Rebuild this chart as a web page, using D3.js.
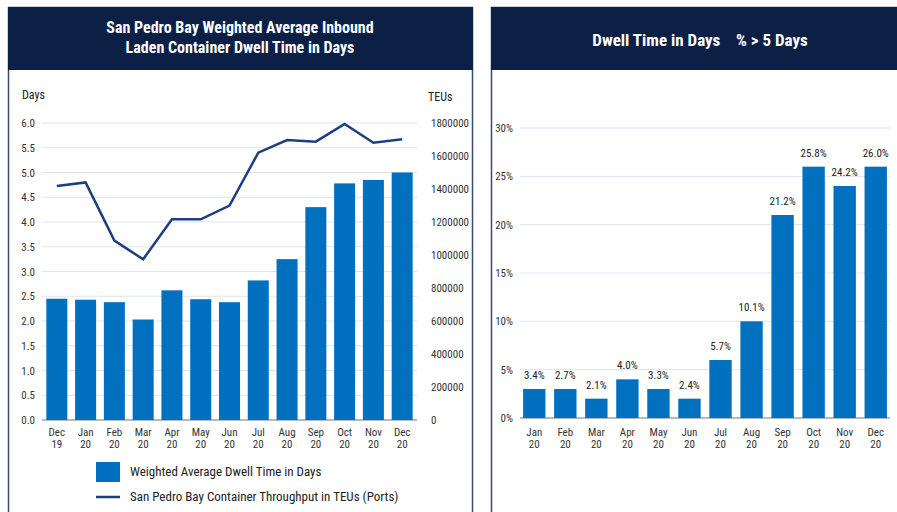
<!DOCTYPE html>
<html>
<head>
<meta charset="utf-8">
<script src="https://cdn.jsdelivr.net/npm/d3@7"></script>
<style>
body { margin:0; background:#fff; }
text { font-family: "Roboto Condensed", Roboto, sans-serif; }
</style>
</head>
<body>
<div id="chart"></div>
<script>
// left chart data
var months_left = [["Dec","19"],["Jan","20"],["Feb","20"],["Mar","20"],["Apr","20"],["May","20"],["Jun","20"],
                   ["Jul","20"],["Aug","20"],["Sep","20"],["Oct","20"],["Nov","20"],["Dec","20"]];
var dwell_days = [2.45, 2.43, 2.38, 2.03, 2.62, 2.44, 2.38, 2.82, 3.25, 4.30, 4.78, 4.85, 5.00];
var teus = [1418000, 1440000, 1087000, 974000, 1216000, 1216000, 1299000, 1620000, 1697000, 1687000, 1794000, 1680000, 1701000];
var days_ticks = [0, 0.5, 1, 1.5, 2, 2.5, 3, 3.5, 4, 4.5, 5, 5.5, 6];
var teu_ticks = [0, 200000, 400000, 600000, 800000, 1000000, 1200000, 1400000, 1600000, 1800000];

// right chart data
var months_right = [["Jan","20"],["Feb","20"],["Mar","20"],["Apr","20"],["May","20"],["Jun","20"],
                    ["Jul","20"],["Aug","20"],["Sep","20"],["Oct","20"],["Nov","20"],["Dec","20"]];
var pct_bars = [3, 3, 2, 4, 3, 2, 6, 10, 21, 26, 24, 26];
var pct_labels = ["3.4%","2.7%","2.1%","4.0%","3.3%","2.4%","5.7%","10.1%","21.2%","25.8%","24.2%","26.0%"];
var pct_ticks = [0, 5, 10, 15, 20, 25, 30];

var navy = "#0c1f44";
var barBlue = "#0070bf";
var lineBlue = "#1d3f7f";
var gridCol = "#dbe5f0";
var txtCol = "#333";

var svg = d3.select("#chart").append("svg")
    .attr("width", 897)
    .attr("height", 512);

//panels
svg.append("rect").attr("x", 8.5).attr("y", 7.5).attr("width", 464).attr("height", 520)
    .attr("fill", "white").attr("stroke", "#3a4a6a").attr("stroke-width", 1.5);
svg.append("rect").attr("x", 8).attr("y", 7).attr("width", 465).attr("height", 63).attr("fill", navy);
svg.append("rect").attr("x", 491.5).attr("y", 7.5).attr("width", 420).attr("height", 520)
    .attr("fill", "white").attr("stroke", "#3a4a6a").attr("stroke-width", 1.5);
svg.append("rect").attr("x", 491).attr("y", 7).attr("width", 420).attr("height", 63).attr("fill", navy);

svg.append("text").attr("x", 240).attr("y", 33).attr("text-anchor", "middle")
    .attr("fill", "white").attr("font-size", 16).attr("font-weight", "bold")
    .text("San Pedro Bay Weighted Average Inbound");
svg.append("text").attr("x", 240).attr("y", 53).attr("text-anchor", "middle")
    .attr("fill", "white").attr("font-size", 16).attr("font-weight", "bold")
    .text("Laden Container Dwell Time in Days");
svg.append("text").attr("x", 700).attr("y", 46).attr("text-anchor", "middle")
    .attr("fill", "white").attr("font-size", 17).attr("font-weight", "bold")
    .attr("xml:space", "preserve")
    .text("Dwell Time in Days    % > 5 Days");

// ---- left chart ----
var x1 = d3.scaleBand().domain(d3.range(months_left.length)).range([42, 417]).paddingInner(0.27).paddingOuter(0.15);
var yDays = d3.scaleLinear().domain([0, 6]).range([420, 123]);
var yTeu = d3.scaleLinear().domain([0, 1800000]).range([420, 123]);

svg.append("g").selectAll("line").data(days_ticks).enter().append("line")
    .attr("x1", 42).attr("x2", 417)
    .attr("y1", function(d){ return yDays(d); }).attr("y2", function(d){ return yDays(d); })
    .attr("stroke", function(d){ return d === 0 ? "#9aa3ad" : gridCol; })
    .attr("stroke-width", function(d){ return d === 0 ? 1.5 : 1; });

var axL = svg.append("g").attr("transform", "translate(38,0)")
    .call(d3.axisLeft(yDays).tickValues(days_ticks).tickFormat(d3.format(".1f")).tickSize(0));
axL.select(".domain").remove();
axL.selectAll("text").attr("font-size", 11).attr("fill", txtCol)
    .attr("font-family", "'Roboto Condensed', Roboto, sans-serif");

var axR = svg.append("g").attr("transform", "translate(428,0)")
    .call(d3.axisRight(yTeu).tickValues(teu_ticks).tickFormat(d3.format("d")).tickSize(0));
axR.select(".domain").remove();
axR.selectAll("text").attr("font-size", 11).attr("fill", txtCol)
    .attr("font-family", "'Roboto Condensed', Roboto, sans-serif");

svg.append("text").attr("x", 22).attr("y", 99).attr("font-size", 12).attr("fill", "#222").text("Days");
svg.append("text").attr("x", 428).attr("y", 101).attr("font-size", 12).attr("fill", "#222").text("TEUs");

svg.append("g").selectAll("rect").data(dwell_days).enter().append("rect")
    .attr("x", function(d, i){ return x1(i); })
    .attr("y", function(d){ return yDays(d); })
    .attr("width", x1.bandwidth())
    .attr("height", function(d){ return yDays(0) - yDays(d); })
    .attr("fill", barBlue);

var line = d3.line()
    .x(function(d, i){ return x1(i) + x1.bandwidth() / 2; })
    .y(function(d){ return yTeu(d); });
svg.append("path").datum(teus).attr("d", line)
    .attr("fill", "none").attr("stroke", lineBlue).attr("stroke-width", 2.5);

var xl = svg.append("g").selectAll("text").data(months_left).enter().append("text")
    .attr("x", function(d, i){ return x1(i) + x1.bandwidth() / 2; })
    .attr("y", 436).attr("text-anchor", "middle").attr("font-size", 11).attr("fill", txtCol);
xl.append("tspan").text(function(d){ return d[0]; });
xl.append("tspan").attr("x", function(d, i){ return x1(i) + x1.bandwidth() / 2; }).attr("dy", 12)
    .text(function(d){ return d[1]; });

// legend
svg.append("rect").attr("x", 96).attr("y", 462).attr("width", 24).attr("height", 20).attr("fill", barBlue);
svg.append("text").attr("x", 130).attr("y", 476).attr("font-size", 13).attr("fill", "#222")
    .text("Weighted Average Dwell Time in Days");
svg.append("line").attr("x1", 96).attr("x2", 120).attr("y1", 497).attr("y2", 497)
    .attr("stroke", lineBlue).attr("stroke-width", 2.5);
svg.append("text").attr("x", 130).attr("y", 501).attr("font-size", 13).attr("fill", "#222")
    .text("San Pedro Bay Container Throughput in TEUs (Ports)");

// ---- right chart ----
var x2 = d3.scaleBand().domain(d3.range(months_right.length)).range([520, 890]).paddingInner(0.28).paddingOuter(0.1);
var yPct = d3.scaleLinear().domain([0, 30]).range([418, 128]);

svg.append("g").selectAll("line").data(pct_ticks).enter().append("line")
    .attr("x1", 520).attr("x2", 890)
    .attr("y1", function(d){ return yPct(d); }).attr("y2", function(d){ return yPct(d); })
    .attr("stroke", function(d){ return d === 0 ? "#9aa3ad" : gridCol; })
    .attr("stroke-width", function(d){ return d === 0 ? 1.5 : 1; });

var axP = svg.append("g").attr("transform", "translate(516,0)")
    .call(d3.axisLeft(yPct).tickValues(pct_ticks).tickFormat(function(d){ return d + "%"; }).tickSize(0));
axP.select(".domain").remove();
axP.selectAll("text").attr("font-size", 11).attr("fill", txtCol)
    .attr("font-family", "'Roboto Condensed', Roboto, sans-serif");

svg.append("g").selectAll("rect").data(pct_bars).enter().append("rect")
    .attr("x", function(d, i){ return x2(i); })
    .attr("y", function(d){ return yPct(d); })
    .attr("width", x2.bandwidth())
    .attr("height", function(d){ return yPct(0) - yPct(d); })
    .attr("fill", barBlue);

svg.append("g").selectAll("text").data(pct_bars).enter().append("text")
    .attr("x", function(d, i){ return x2(i) + x2.bandwidth() / 2; })
    .attr("y", function(d){ return yPct(d) - 10; })
    .attr("text-anchor", "middle").attr("font-size", 11).attr("fill", "#222")
    .text(function(d, i){ return pct_labels[i]; });

var xr = svg.append("g").selectAll("text").data(months_right).enter().append("text")
    .attr("x", function(d, i){ return x2(i) + x2.bandwidth() / 2; })
    .attr("y", 436).attr("text-anchor", "middle").attr("font-size", 11).attr("fill", txtCol);
xr.append("tspan").text(function(d){ return d[0]; });
xr.append("tspan").attr("x", function(d, i){ return x2(i) + x2.bandwidth() / 2; }).attr("dy", 12)
    .text(function(d){ return d[1]; });
</script>
</body>
</html>
